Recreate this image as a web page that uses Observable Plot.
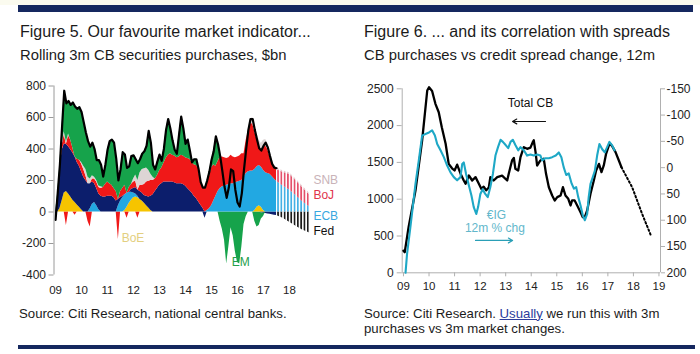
<!DOCTYPE html>
<html><head><meta charset="utf-8">
<script src="https://cdn.jsdelivr.net/npm/d3@7"></script>
<script src="https://cdn.jsdelivr.net/npm/@observablehq/plot@0.6"></script>
<style>
html,body{margin:0;padding:0;background:#fff;}
#wrap{position:relative;width:700px;height:354px;overflow:hidden;font-family:Arial,"Liberation Sans",Helvetica,sans-serif;color:#1b1b1b;}
.abs{position:absolute;white-space:nowrap;}
.title{font-size:16px;line-height:16px;}
.sub{font-size:14.8px;line-height:14.8px;}
.src{font-size:13.2px;line-height:15.3px;}
.plot{position:absolute;top:70px;}
</style></head><body>
<div id="wrap">
<div class="abs" style="left:0;top:0;width:700px;height:5px;background:#fbfbef"></div>
<div class="abs" style="left:18px;top:5px;width:675px;height:6.5px;background:#15285f"></div>
<div class="abs title" style="left:20px;top:24.2px">Figure 5. Our favourite market indicator...</div>
<div class="abs sub" style="left:20px;top:48px">Rolling 3m CB securities purchases, $bn</div>
<div class="abs title" style="left:364px;top:24.2px">Figure 6. ... and its correlation with spreads</div>
<div class="abs sub" style="left:364px;top:48px">CB purchases vs credit spread change, 12m</div>
<div id="L" class="plot" style="left:0"></div>
<div id="R1" class="plot" style="left:350px"></div>
<div id="R2" class="plot" style="left:350px"></div>
<div class="abs src" style="left:19px;top:305.6px">Source: Citi Research, national central banks.</div>
<div class="abs src" style="left:364px;top:305.6px">Source: Citi Research. <u style="color:#2c3c9c">Usually</u> we run this with 3m<br>purchases vs 3m market changes.</div>
<div class="abs" style="left:18px;top:345px;width:677px;height:3.5px;background:#15285f"></div>
</div>
<script>
// ---------- Figure 5 data: rolling 3m purchases, $bn, monthly from Jan 2009 ----------
const boe = [0,0,20,70,120,130,115,95,75,60,45,30,15,
  0,0,0,0,0,0,0,0,0,0,0,0,0,0,0,0,0,0,0,
  10,30,55,75,90,95,90,80,70,55,40,25,10,
  0,0,0,0,0,0,0,0,0,0,0,0,0,0,0,0,0,0,0,0,0,0,0,0,0,0,0,0,0,0,0,0,0,0,0,0,0,0,0,0,0,0,0,0,0,0,0,
  10,30,40,30,10,
  0,0,0,0,0,0];
const ecb = [0,0,0,0,0,0,0,0,0,0,0,0,0,0,0,0,
  20,50,60,40,15,
  0,0,0,0,0,0,0,0,
  40,70,90,100,90,70,50,30,20,10,
  0,0,0,0,0,0,0,0,0,0,0,0,0,0,0,0,0,0,0,0,0,0,0,0,0,0,0,0,0,0,
  0,10,20,40,70,100,130,150,160,165,170,175,180,180,185,190,195,200,220,245,255,260,260,260,258,255,255,255,250,245,240,225,210,195];
const fed = [-50,100,230,320,310,300,300,300,300,290,270,260,240,
  220,200,180,160,140,120,110,100,100,95,95,100,100,100,90,70,40,20,10,
  0,0,0,20,30,40,40,50,50,50,60,70,90,
  110,130,150,170,180,190,190,190,190,190,185,180,180,180,175,165,150,135,120,100,85,65,45,25,
  -40,
  0,0,0,0,0,0,0,0,0,0,0,0,0,0,0,0,0,0,0,0,0,0,0,0,0,
  -5,-8,-10,-12,-15,-18,-20,-22];
const boj = [0,0,10,30,60,-85,70,60,30,-20,20,40,50,
  50,30,-60,-95,20,30,40,40,50,60,80,90,80,70,60,60,-175,40,50,
  60,-40,30,30,40,40,-40,40,50,70,90,100,100,
  90,80,80,90,100,120,150,170,180,170,170,165,170,180,180,180,190,200,195,200,210,210,145,130,
  155,180,200,240,230,190,190,200,190,180,170,170,180,170,160,160,160,170,150,210,
  260,300,300,240,170,120,110,150,170,150,110,85,70,75];
const snb = [0,0,0,10,20,15,10,0,0,0,0,0,10,
  20,40,40,30,20,10,10,10,10,
  0,0,0,0,0,0,0,0,0,0,0,0,0,0,
  20,40,60,80,100,100,90,70,40,20,
  0,0,0,0,0,0,0,0,0,0,0,0,0,0,0,0,0,0,0,0,0,0,0,0,0,0,0,0,0,0,0,0,0,0,0,0,0,0,0,0,0,0,0,
  10,30,40,40,40,40,40,40,40,40,30,20,20,10];
const em = [0,20,40,110,260,245,210,225,290,320,320,335,320,
  280,235,230,205,210,180,130,165,140,70,125,205,270,290,290,210,120,140,230,
  195,160,135,180,150,100,110,85,100,110,140,250,200,
  80,60,90,105,45,90,180,230,160,95,40,25,140,245,175,88,120,55,0,35,40,0,0,0,
  0,10,35,50,85,190,110,-60,-110,-180,-330,-220,-100,-150,-250,-320,-330,-220,-80,-30,
  0,0,0,-60,-95,-85,-40,-20,0,0,0,0,0,0];
const totalCB = [-50,120,300,540,770,690,705,680,695,670,655,665,635,
  570,505,450,415,440,400,330,330,300,225,300,395,450,460,440,340,200,270,380,
  365,280,290,355,360,335,310,335,370,385,420,515,440,
  300,270,320,365,325,400,520,590,530,455,395,370,490,605,530,433,460,390,315,335,335,275,190,155,
  155,200,255,330,385,480,430,355,260,160,90,157,270,260,140,60,35,120,270,400,
  520,590,590,520,460,405,390,420,440,410,355,305,282,278];
// projection (hatched)
const projYears = [2017.5, 2017.75, 2018, 2018.25, 2018.5, 2018.8];
const projECB = [195,165,140,105,65,30];
const projBoJ = [75,87,100,95,90,75];
const projSNB = [10,10,10,10,10,10];
const projFed = [-22,-40,-65,-90,-115,-135];

const seriesNames = ["BoE","ECB","Fed","BoJ","SNB","EM"];
const seriesColors = ["#f6c400","#22a8e2","#0c1e6c","#f01818","#ddd5d5","#16a34b"];
const projNames = ["Fedp","ECBp","BoJp","SNBp"];
const projFills = ["url(#hFed)","url(#hECB)","url(#hBoJ)","url(#hSNB)"];
const hatchColors = [["hFed","#1a1a1a"],["hECB","#45b0e4"],["hBoJ","#e4506a"],["hSNB","#e2c8cc"]];
const yTicksL = [-400,-200,0,200,400,600,800];
const xTicksL = [2009,2010,2011,2012,2013,2014,2015,2016,2017,2018];
const xDomL = [2008.94, 2019];
const leftLabels = [
  {text:"SNB", x:2018.92, y:200, color:"#c9b3b8", anchor:"start"},
  {text:"BoJ", x:2018.92, y:105, color:"#e0344a", anchor:"start"},
  {text:"ECB", x:2018.92, y:-29, color:"#38a8e0", anchor:"start"},
  {text:"Fed", x:2018.92, y:-124, color:"#111111", anchor:"start"},
  {text:"EM",  x:2016.12, y:-320, color:"#24a04c", anchor:"middle"},
  {text:"BoE", x:2011.98, y:-168, color:"#e3cf80", anchor:"middle"}
];

// ---------- Figure 6 data ----------
const cbYears = [2009.0,2009.05,2009.2,2009.47,2009.73,2009.93,2010.0,2010.12,2010.25,2010.38,2010.5,2010.65,2010.77,2010.9,2011.0,2011.1,2011.23,2011.36,2011.43,2011.56,2011.69,2011.82,2011.95,2012.05,2012.14,2012.24,2012.34,2012.4,2012.53,2012.67,2012.86,2013.06,2013.12,2013.25,2013.32,2013.38,2013.49,2013.58,2013.71,2013.84,2013.97,2014.06,2014.1,2014.17,2014.23,2014.36,2014.49,2014.58,2014.69,2014.82,2014.92,2015.02,2015.15,2015.24,2015.34,2015.45,2015.54,2015.6,2015.7,2015.8,2015.93,2016.02,2016.1,2016.19,2016.32,2016.45,2016.54,2016.65,2016.75,2016.84,2016.93,2017.04,2017.1,2017.19,2017.3,2017.43,2017.53];
const cbValues = [300,280,620,1118,1797,2477,2520,2470,2296,2182,1978,1753,1480,1420,1390,1470,1350,1254,1210,1322,1254,1300,1210,1140,1170,1120,1160,1300,1254,1300,1320,1254,1345,1526,1560,1413,1390,1572,1707,1685,1700,1775,1800,1640,1458,1526,1549,1345,1163,1050,983,1028,1050,1163,1050,1005,915,983,983,915,824,756,760,847,1073,1254,1390,1480,1367,1458,1617,1730,1752,1707,1640,1526,1435];
const cbProjYears = [2017.53, 2017.95, 2018.34, 2018.67];
const cbProjValues = [1435, 1163, 801, 520];
const igYears = [2009.08,2009.14,2009.27,2009.47,2009.6,2009.73,2009.86,2010.0,2010.12,2010.23,2010.32,2010.45,2010.58,2010.71,2010.84,2010.97,2011.1,2011.23,2011.3,2011.36,2011.45,2011.56,2011.66,2011.75,2011.85,2011.92,2012.01,2012.1,2012.2,2012.3,2012.4,2012.5,2012.6,2012.7,2012.8,2012.89,2013.0,2013.1,2013.19,2013.28,2013.38,2013.49,2013.58,2013.71,2013.84,2013.97,2014.1,2014.23,2014.36,2014.43,2014.56,2014.69,2014.82,2014.96,2015.08,2015.18,2015.27,2015.37,2015.47,2015.58,2015.67,2015.76,2015.84,2015.93,2016.02,2016.1,2016.19,2016.25,2016.32,2016.41,2016.49,2016.58,2016.67,2016.78,2016.88,2016.97,2017.06,2017.16,2017.26];
const igValues = [200,164,113,31,-14,-61,-64,-67,-71,-61,-45,-33,-20,-4,9,18,24,18,-7,-10,12,34,53,75,88,75,50,41,50,56,37,12,-23,-39,-53,-49,-43,-37,-49,-53,-43,-33,-39,-33,-23,-25,-23,-25,-23,-14,-18,-18,-20,-23,-29,-20,-1,14,11,30,40,37,56,72,91,100,88,56,31,18,6,-23,-45,-35,-29,-39,-49,-43,-33];
const yTicksR1 = [0,500,1000,1500,2000,2500];
const yTicksR2 = [-150,-100,-50,0,50,100,150,200];
const xTicksR = [2009,2010,2011,2012,2013,2014,2015,2016,2017,2018,2019];
const xDomR = [2008.95, 2019.06];
const cbNote = [{text:"Total CB", x:2013.97, y:2300}];
const cbArrow = [{x1:2014.56, x2:2013.27, y:2056}];
const igNote = [{text:"€IG", x:2012.64, y:91}, {text:"12m % chg", x:2012.58, y:115}];
const igArrow = [{x1:2011.82, x2:2013.27, y:138.5}];

// ---------- build ----------
const months = d3.range(totalCB.length).map(i => 2009 + i / 12);
const comp = {BoE: boe, ECB: ecb, Fed: fed, BoJ: boj, SNB: snb, EM: em};
const rows = [];
for (const s of seriesNames) comp[s].forEach((v, i) => rows.push({t: months[i], v: Math.min(v, 0), key: s + "-", series: s}));
for (const s of seriesNames) comp[s].forEach((v, i) => rows.push({t: months[i], v: Math.max(v, 0), key: s + "+", series: s}));
const projComp = {Fedp: projFed, ECBp: projECB, BoJp: projBoJ, SNBp: projSNB};
const projRows = [];
for (const s of projNames) projComp[s].forEach((v, i) => projRows.push({t: projYears[i], v, key: s, series: s}));
const totalRows = totalCB.map((v, i) => ({t: months[i], v}));

const font = "Arial, 'Liberation Sans', Helvetica, sans-serif";
const baseStyle = {background: "transparent", fontFamily: font, fontSize: "12px", color: "#222", overflow: "visible"};

function addPatterns(svg) {
  const ns = "http://www.w3.org/2000/svg";
  const defs = document.createElementNS(ns, "defs");
  for (const [id, color] of hatchColors) {
    const p = document.createElementNS(ns, "pattern");
    p.setAttribute("id", id); p.setAttribute("patternUnits", "userSpaceOnUse");
    p.setAttribute("width", "3.3"); p.setAttribute("height", "8");
    const r = document.createElementNS(ns, "rect");
    r.setAttribute("width", "1.7"); r.setAttribute("height", "8"); r.setAttribute("fill", color);
    p.appendChild(r); defs.appendChild(p);
  }
  svg.insertBefore(defs, svg.firstChild);
}

const left = Plot.plot({
  width: 350, height: 230,
  marginLeft: 53.5, marginRight: 35, marginTop: 15.5, marginBottom: 25.5,
  x: {domain: xDomL},
  y: {domain: [-400, 800]},
  color: {domain: [...seriesNames, ...projNames], range: [...seriesColors, ...projFills]},
  style: baseStyle,
  marks: [
    Plot.areaY(rows, {x: "t", y: "v", z: "key", fill: "series"}),
    Plot.areaY(projRows, {x: "t", y: "v", z: "key", fill: "series"}),
    Plot.lineY(totalRows, {x: "t", y: "v", stroke: "#000", strokeWidth: 2.2, strokeLinejoin: "round"}),
    Plot.ruleX([xDomL[0]], {stroke: "#9a9a9a"}),
    Plot.axisY({ticks: yTicksL, tickSize: 5, tickPadding: 3, tickFormat: d => String(d), stroke: "#9a9a9a", fill: "#222", fontSize: 12, label: null}),
    Plot.axisX({ticks: xTicksL, tickSize: 0, tickPadding: 11, tickFormat: d => String(d).slice(2), fill: "#222", fontSize: 11.5, label: null}),
    ...leftLabels.map(l => Plot.text([l], {x: "x", y: "y", text: "text", fill: l.color, textAnchor: l.anchor, fontSize: 12}))
  ]
});
addPatterns(left);
document.getElementById("L").appendChild(left);

const r1 = Plot.plot({
  width: 350, height: 230,
  marginLeft: 51.7, marginRight: 40, marginTop: 18.3, marginBottom: 27.7,
  x: {domain: xDomR},
  y: {domain: [0, 2500]},
  style: baseStyle,
  marks: [
    Plot.ruleX(xDomR, {stroke: "#b0b0b0"}),
    Plot.ruleY([0], {stroke: "#b0b0b0"}),
    Plot.axisY({ticks: yTicksR1, tickSize: 5, tickPadding: 3.5, tickFormat: d => String(d), stroke: "#b0b0b0", fill: "#222", fontSize: 12, label: null}),
    Plot.axisX({ticks: xTicksR, tickSize: 4, tickPadding: 5, tickFormat: d => String(d).slice(2), stroke: "#b0b0b0", fill: "#222", fontSize: 11.5, label: null}),
    Plot.lineY(cbYears.map((t, i) => ({t, v: cbValues[i]})), {x: "t", y: "v", stroke: "#000", strokeWidth: 2.3, strokeLinejoin: "round"}),
    Plot.lineY(cbProjYears.map((t, i) => ({t, v: cbProjValues[i]})), {x: "t", y: "v", stroke: "#000", strokeWidth: 2, strokeDasharray: "1.6,2.4"}),
    Plot.text(cbNote, {x: "x", y: "y", text: "text", fill: "#111", fontSize: 12}),
    Plot.arrow(cbArrow, {x1: "x1", x2: "x2", y1: "y", y2: "y", stroke: "#111", strokeWidth: 1.2, headLength: 6})
  ]
});
document.getElementById("R1").appendChild(r1);

const r2 = Plot.plot({
  width: 350, height: 230,
  marginLeft: 51.7, marginRight: 40, marginTop: 18.3, marginBottom: 27.7,
  x: {domain: xDomR, axis: null},
  y: {domain: [200, -150]},
  style: baseStyle,
  marks: [
    Plot.axisY({anchor: "right", ticks: yTicksR2, tickSize: 4, tickPadding: 2, tickFormat: d => String(d), stroke: "#b0b0b0", fill: "#222", fontSize: 12, label: null}),
    Plot.lineY(igYears.map((t, i) => ({t, v: igValues[i]})), {x: "t", y: "v", stroke: "#1ea8c6", strokeWidth: 2.1, strokeLinejoin: "round"}),
    Plot.text(igNote, {x: "x", y: "y", text: "text", fill: "#62b7cb", fontSize: 12}),
    Plot.arrow(igArrow, {x1: "x1", x2: "x2", y1: "y", y2: "y", stroke: "#2a9fb6", strokeWidth: 1.2, headLength: 6})
  ]
});
document.getElementById("R2").appendChild(r2);
</script>
</body></html>
